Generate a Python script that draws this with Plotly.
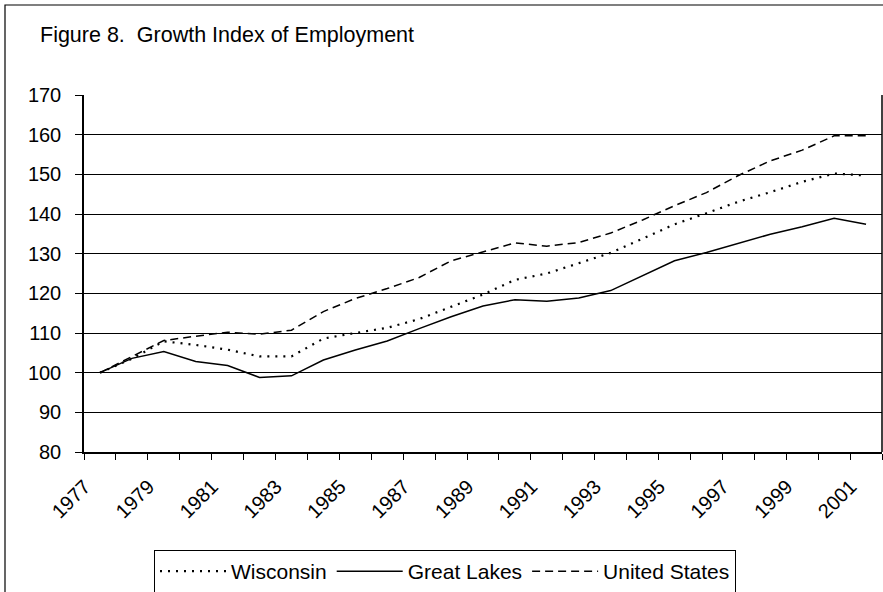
import plotly.graph_objects as go

years = list(range(1977, 2002))
wisconsin = [100, 103.5, 107.9, 107.0, 105.8, 104.1, 104.1, 108.6, 110.0, 111.3, 113.5, 116.5,
             119.7, 123.4, 125.0, 127.6, 130.2, 133.8, 137.4, 140.2, 143.1, 145.5, 148.1, 150.2, 149.7]
great_lakes = [100, 103.6, 105.3, 102.8, 101.8, 98.8, 99.2, 103.2, 105.7, 108.0, 111.1, 114.1,
               116.8, 118.4, 118.0, 118.8, 120.7, 124.5, 128.2, 130.3, 132.6, 134.9, 136.8, 138.9, 137.4]
united_states = [100, 104.0, 108.1, 109.2, 110.2, 109.7, 110.7, 115.4, 118.7, 121.2, 124.0, 128.2,
                 130.4, 132.7, 131.9, 132.8, 135.2, 138.5, 142.1, 145.4, 149.7, 153.4, 156.1, 159.7, 159.7]
x_labels = [str(y) for y in range(1977, 2002, 2)]
y_ticks = list(range(80, 171, 10))
title_text = "Figure 8.  Growth Index of Employment"

FONT = "Arial, Liberation Sans, sans-serif"
LABEL_SHIFT = 0.48  # rotated labels sit slightly left of their category centre

fig = go.Figure()
fig.add_trace(go.Scatter(x=years, y=wisconsin, name="Wisconsin", mode="lines",
                         line=dict(color="black", width=2.2, dash="2px,6px")))
fig.add_trace(go.Scatter(x=years, y=great_lakes, name="Great Lakes", mode="lines",
                         line=dict(color="black", width=1.5)))
fig.add_trace(go.Scatter(x=years, y=united_states, name="United States", mode="lines",
                         line=dict(color="black", width=1.5, dash="8px,5px")))

L, R, T, B = 84, 1, 95, 140
W, H = 883, 592
pw, ph = W - L - R, H - T - B

def px_x(p):
    return (p - L) / pw

def px_y(p):
    return (H - B - p) / ph

fig.update_layout(
    width=W, height=H,
    margin=dict(l=L, r=R, t=T, b=B, autoexpand=False),
    paper_bgcolor="white", plot_bgcolor="white",
    font=dict(family=FONT, color="black", size=20),
    showlegend=True,
    legend=dict(orientation="h", x=px_x(445), xanchor="center", y=px_y(550), yanchor="top",
                bordercolor="black", borderwidth=1, font=dict(size=21, family=FONT),
                bgcolor="white", itemwidth=66, tracegroupgap=0),
    xaxis=dict(
        range=[1976.5, 2001.5], tickmode="array",
        tickvals=[int(v) - LABEL_SHIFT for v in x_labels], ticktext=x_labels,
        tickangle=-45, ticks="", showgrid=False, zeroline=False,
        showline=True, linecolor="black", linewidth=2, mirror=False,
        tickfont=dict(size=20, family=FONT),
        ticklabelstandoff=13, automargin=False,
        minor=dict(tick0=1976.5, dtick=1, ticks="outside", ticklen=6,
                   tickcolor="black", tickwidth=1.2, showgrid=False),
        fixedrange=True,
    ),
    yaxis=dict(
        range=[80, 170], tickmode="array", tickvals=y_ticks,
        ticks="outside", ticklen=7, tickcolor="black", tickwidth=1.2,
        showgrid=True, gridcolor="black", gridwidth=1.2,
        zeroline=False, showline=True, linecolor="black", linewidth=1.5,
        tickfont=dict(size=20, family=FONT), ticklabelstandoff=10, automargin=False,
        fixedrange=True,
    ),
    shapes=[
        dict(type="line", xref="paper", yref="paper", x0=1, x1=1, y0=0, y1=1,
             line=dict(color="black", width=1.5)),
        dict(type="rect", xref="paper", yref="paper",
             x0=px_x(5), x1=px_x(900), y0=px_y(610), y1=px_y(5),
             line=dict(color="black", width=1.2), layer="below"),
    ],
    annotations=[
        dict(text=title_text, xref="paper", yref="paper", x=px_x(38), y=px_y(35),
             xanchor="left", yanchor="middle", showarrow=False,
             font=dict(size=21.5, family=FONT, color="black")),
    ],
)

fig.write_html("out.html", config={"displayModeBar": False},
               post_script="document.body.style.margin='0';")
